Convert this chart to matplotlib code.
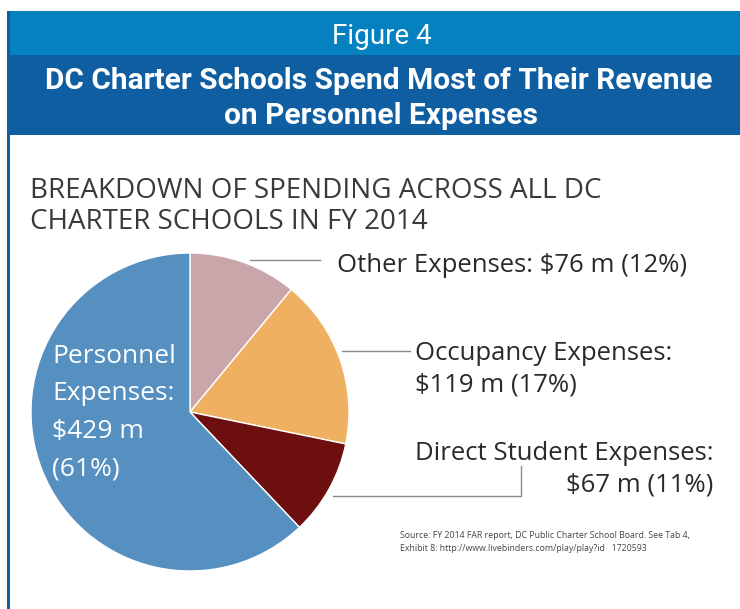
import matplotlib.pyplot as plt
from matplotlib.patches import Rectangle

# spending breakdown, FY 2014 (millions of dollars)
categorias = ['Other Expenses', 'Occupancy Expenses', 'Direct Student Expenses', 'Personnel Expenses']
valores = [76, 119, 67, 429]
cores = ['#c9a6aa', '#f0b062', '#6d0e0f', '#5590c1']

W, H = 740, 609
fig = plt.figure(figsize=(W / 100, H / 100), dpi=100)

# background axes in pixel coords (y down)
fundo = fig.add_axes([0, 0, 1, 1], zorder=0)
fundo.set_xlim(0, W)
fundo.set_ylim(H, 0)
fundo.axis('off')

fundo.add_patch(Rectangle((8, 11), W - 8, 44, color='#0581c0', lw=0))
fundo.add_patch(Rectangle((8, 55), W - 8, 80, color='#0f5ea2', lw=0))
fundo.add_patch(Rectangle((7, 11), 3, H - 11, color='#0f5ea2', lw=0))

cond = ['Roboto', 'DejaVu Sans']
fundo.text(382, 44, 'Figure 4', color='white', fontsize=20, family=cond,
           ha='center', va='baseline')
fundo.text(379, 89, 'DC Charter Schools Spend Most of Their Revenue', color='white',
           fontsize=21.5, family=cond, weight='bold', ha='center', va='baseline')
fundo.text(381, 124, 'on Personnel Expenses', color='white',
           fontsize=21.5, family=cond, weight='bold', ha='center', va='baseline')

sans = ['Open Sans', 'DejaVu Sans']
fundo.text(30, 198, 'BREAKDOWN OF SPENDING ACROSS ALL DC', color='#3a3a3a',
           fontsize=20, family=sans, ha='left', va='baseline')
fundo.text(30, 229, 'CHARTER SCHOOLS IN FY 2014', color='#3a3a3a',
           fontsize=20, family=sans, ha='left', va='baseline')

# pie, centred at (190, 412) px, radius ~159 px
r = 159
cx, cy = 190, 412
ax = fig.add_axes([(cx - r) / W, (H - cy - r) / H, 2 * r / W, 2 * r / H], zorder=1)
ax.pie(valores, colors=cores, startangle=90, counterclock=False,
       wedgeprops=dict(edgecolor='white', linewidth=1))
ax.set_xlim(-1, 1)
ax.set_ylim(-1, 1)
ax.set_aspect('equal')
ax.axis('off')

# overlay for text on top of the pie
topo = fig.add_axes([0, 0, 1, 1], zorder=2)
topo.set_xlim(0, W)
topo.set_ylim(H, 0)
topo.axis('off')
topo.patch.set_alpha(0)

rotulo = dict(color='#2a2a2a', fontsize=18.5, family=sans, va='baseline')
linha = dict(color='#8a8a8a', lw=1)

fundo.plot([250, 320], [260, 260], **linha)
topo.text(337, 272, 'Other Expenses: $76 m (12%)', ha='left', **rotulo)

fundo.plot([342, 410], [351, 351], **linha)
topo.text(415, 360, 'Occupancy Expenses:', ha='left', **rotulo)
topo.text(415, 392, '$119 m (17%)', ha='left', **rotulo)

fundo.plot([333, 521, 521], [496, 496, 466], **linha)
topo.text(415, 460, 'Direct Student Expenses:', ha='left', **rotulo)
topo.text(713, 492, '$67 m (11%)', ha='right', **rotulo)

pessoal = ['Personnel', 'Expenses:', '$429 m', '(61%)']
for i, t in enumerate(pessoal):
    topo.text(52, 363 + i * 37.5, t, color='white', fontsize=19, family=sans,
              ha='left', va='baseline')

fundo.text(400, 538, 'Source: FY 2014 FAR report, DC Public Charter School Board. See Tab 4,',
           color='#444444', fontsize=6.3, family=sans, ha='left', va='baseline')
fundo.text(400, 551, 'Exhibit 8: http://www.livebinders.com/play/play?id   1720593',
           color='#444444', fontsize=6.3, family=sans, ha='left', va='baseline')

fig.savefig('out.png', dpi=100)
